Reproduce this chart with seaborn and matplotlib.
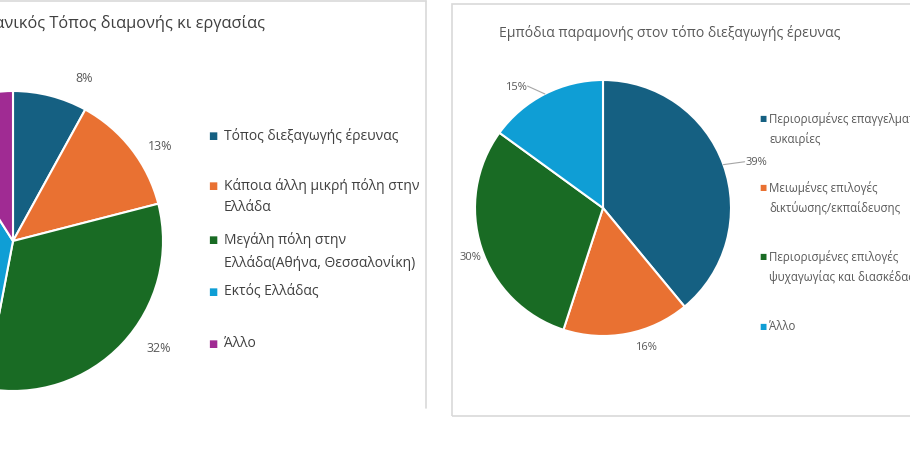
import matplotlib
matplotlib.use("Agg")
import numpy as np
import matplotlib.pyplot as plt
import seaborn as sns

# --- data ---
left_title = "Ιδανικός Τόπος διαμονής κι εργασίας"
left_labels = ["Τόπος διεξαγωγής έρευνας",
               "Κάποια άλλη μικρή πόλη στην\nΕλλάδα",
               "Μεγάλη πόλη στην\nΕλλάδα(Αθήνα, Θεσσαλονίκη)",
               "Εκτός Ελλάδας",
               "Άλλο"]
left_values = [8, 13, 32, 38, 9]

right_title = "Εμπόδια παραμονής στον τόπο διεξαγωγής έρευνας"
right_labels = ["Περιορισμένες επαγγελματικές\nευκαιρίες",
                "Μειωμένες επιλογές\nδικτύωσης/εκπαίδευσης",
                "Περιορισμένες επιλογές\nψυχαγωγίας και διασκέδασης",
                "Άλλο"]
right_values = [39, 16, 30, 15]

# label placement (Excel "best fit"): angle nudge in degrees and radial distance
left_nudge = [9, 5, -7, 0, 0]
left_dist = [1.19, 1.17, 1.2, 1.18, 1.18]
right_nudge = [3, -6.5, -2, -8.5]
right_dist = [1.25, 1.13, 1.10, 1.17]

sns.set_style("white")
plt.rcParams['font.family'] = ['Open Sans', 'DejaVu Sans']
palette = sns.color_palette(["#156082", "#E97132", "#196B24", "#0F9ED5", "#A02B93"])

W, H = 910, 460
fig = plt.figure(figsize=(9.1, 4.6), dpi=100)


def px(x, y):
    return x / W, 1 - y / H


def draw_pie(cx, cy, r, values, nudge, dist, fontsize):
    ax = fig.add_axes([(cx - r) / W, 1 - (cy + r) / H, 2 * r / W, 2 * r / H])
    wedges, _, pcts = ax.pie(values, colors=palette[:len(values)], startangle=90,
                             counterclock=False, radius=1,
                             wedgeprops=dict(edgecolor="white", linewidth=1.5),
                             autopct="%d%%",
                             textprops=dict(color="#595959", fontsize=fontsize))
    for w, t, dn, d in zip(wedges, pcts, nudge, dist):
        a = np.deg2rad(90 - (w.theta1 + w.theta2) / 2 + dn)
        t.set_position((d * np.sin(a), d * np.cos(a)))
    ax.set_xlim(-1, 1)
    ax.set_ylim(-1, 1)
    ax.axis("off")
    return ax, wedges, pcts


# chart frames
fig.add_artist(plt.Line2D([0, 426 / W], [1 - 1.5 / H] * 2, color="#d9d9d9", lw=1.2))
fig.add_artist(plt.Line2D([426 / W] * 2, [1 - 1.5 / H, 1 - 409 / H], color="#d9d9d9", lw=1.2))
fig.add_artist(plt.Rectangle(px(452, 417), 600 / W, 412 / H, fill=False,
                             edgecolor="#d9d9d9", lw=1.2))

# left chart
ax1, _, _ = draw_pie(13, 242, 150, left_values, left_nudge, left_dist, 9)
fig.text(*px(265, 24), left_title, ha="right", va="center", fontsize=11.8, color="#404040")
left_y = [137, 187, 241, 293, 345]
for i, (lab, y) in enumerate(zip(left_labels, left_y)):
    fig.text(*px(213, y), "■", color=palette[i], fontsize=7, ha="center", va="center")
    fig.text(*px(224, y - 9), lab, fontsize=10, color="#404040", ha="left", va="top",
             linespacing=1.55)

# right chart
ax2, wedges, pcts = draw_pie(603, 209, 128, right_values, right_nudge, right_dist, 8)
# leader lines for the labels that sit further out
for k in (0, 3):
    w = wedges[k]
    mid = np.deg2rad((w.theta1 + w.theta2) / 2)
    tx, ty = pcts[k].get_position()
    side = 1 if tx > 0 else -1
    ax2.plot([np.cos(mid), tx - side * 0.09], [np.sin(mid), ty], color="#a6a6a6",
             lw=0.8, clip_on=False)
fig.text(*px(499, 33), right_title, ha="left", va="center", fontsize=10.1, color="#595959")
right_y = [120, 189, 258, 328]
for i, (lab, y) in enumerate(zip(right_labels, right_y)):
    fig.text(*px(763, y), "■", color=palette[i], fontsize=5.5, ha="center", va="center")
    fig.text(*px(769, y - 8), lab, fontsize=8.3, color="#595959", ha="left", va="top",
             linespacing=1.55)

fig.savefig("out.png", dpi=100)
